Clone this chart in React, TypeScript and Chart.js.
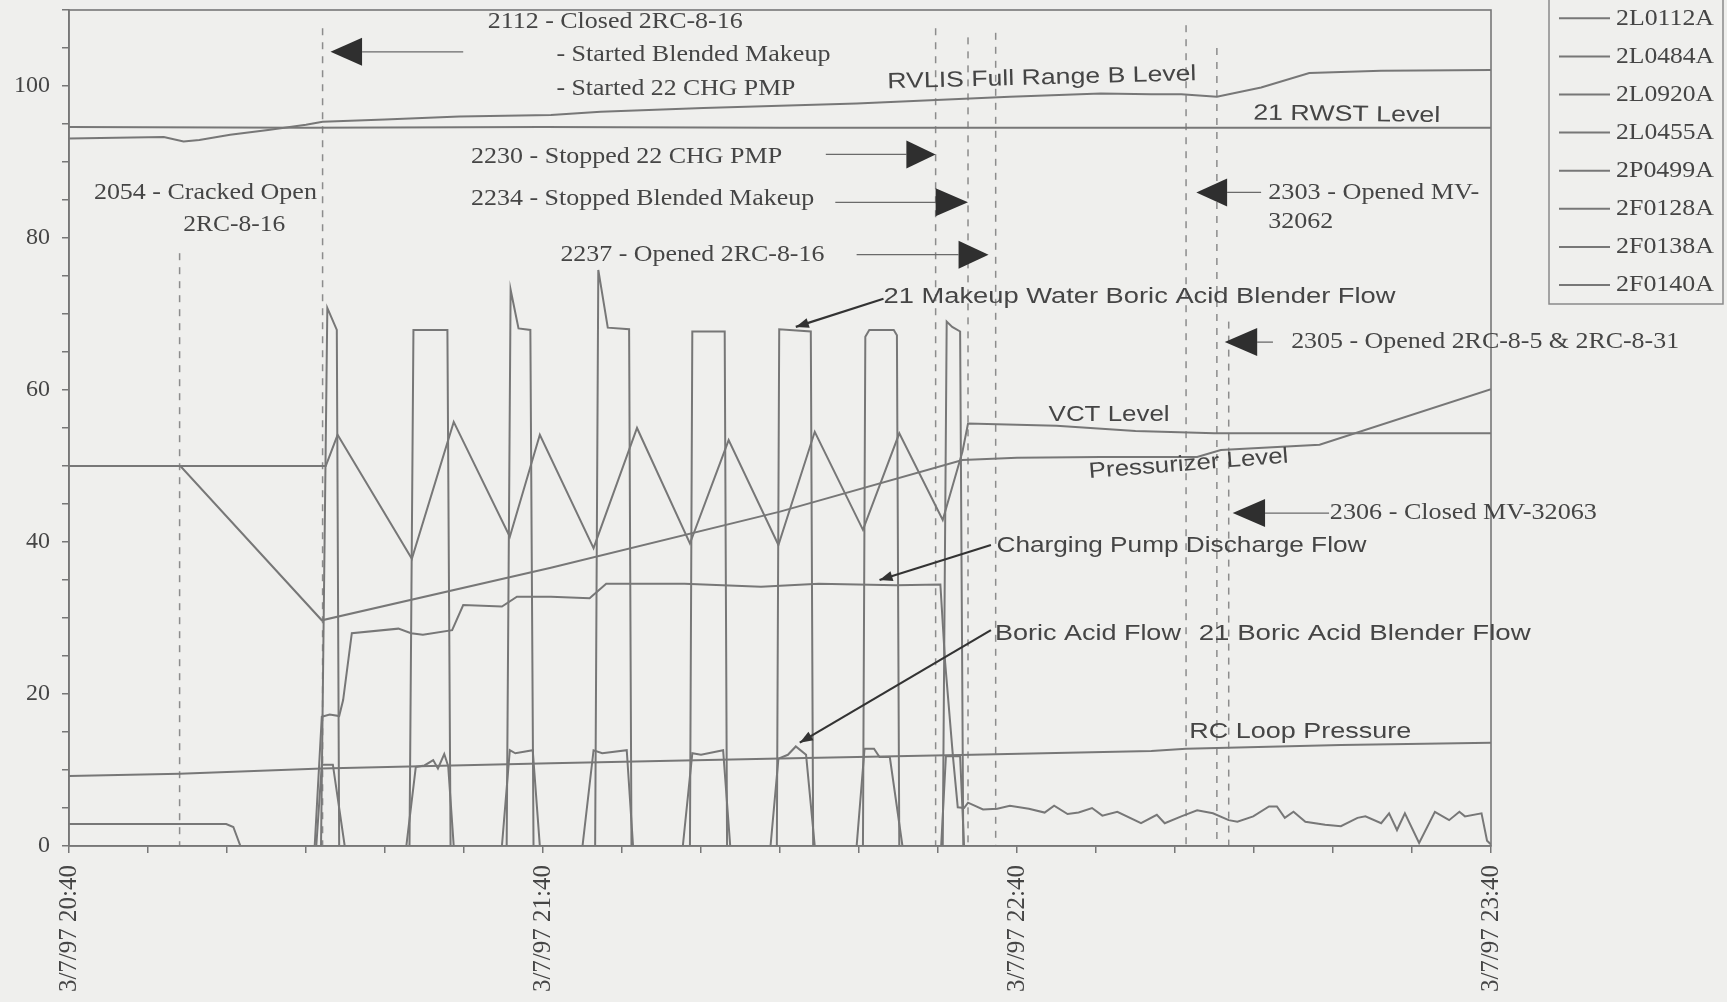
import React, { useEffect, useRef } from "react";
import { Chart, registerables } from "chart.js";

Chart.register(...registerables);

// Time axis: minutes after 3/7/97 20:40
const hourTickMinutes = [0, 60, 120, 180];
const hourTickLabels = ["3/7/97 20:40", "3/7/97 21:40", "3/7/97 22:40", "3/7/97 23:40"];
const yTickLabelValues = [0, 20, 40, 60, 80, 100];

const legendLabels = ["2L0112A", "2L0484A", "2L0920A", "2L0455A", "2P0499A", "2F0128A", "2F0138A", "2F0140A"];

// RVLIS Full Range B Level
const rvlisLevel: [number, number][] = [
  [0, 93.1], [6, 93.2], [12, 93.3], [14.5, 92.7], [16.5, 92.9], [20.4, 93.6], [25.2, 94.2], [30, 94.9],
  [32.1, 95.3], [40, 95.6], [49.4, 96.0], [61, 96.2], [67.3, 96.6], [80.3, 97.1], [99.7, 97.7],
  [119.1, 98.6], [130.6, 99.0], [137, 98.9], [140.8, 98.9], [145.3, 98.6], [150.9, 99.8], [157, 101.7],
  [166.1, 102.0], [180, 102.1],
];

// 21 RWST Level
const rwstLevel: [number, number][] = [
  [0, 94.6], [30, 94.5], [60, 94.6], [90, 94.5], [120, 94.5], [150, 94.5], [180, 94.5],
];

// VCT Level
const vctLevel: [number, number][] = [
  [0, 50], [32.5, 50], [34.0, 54.1], [43.4, 37.8], [48.7, 55.8], [55.8, 40.7], [59.6, 54.1],
  [66.4, 39.2], [71.9, 55.0], [78.6, 39.8], [83.5, 53.4], [89.8, 39.6], [94.4, 54.5], [100.5, 41.6],
  [105.1, 54.3], [110.6, 42.9], [113.1, 51.9], [113.8, 55.6], [125, 55.3], [135, 54.6], [145, 54.3],
  [180, 54.3],
];

// Pressurizer Level
const pressurizerLevel: [number, number][] = [
  [0, 50], [14.1, 50], [32, 29.7], [61, 36.6], [90, 44.0], [113.1, 50.8], [120, 51.1], [130.6, 51.2],
  [142.8, 51.2], [145.8, 52.1], [158.3, 52.8], [180, 60.1],
];

// RC Loop Pressure
const rcLoopPressure: [number, number][] = [
  [0, 9.2], [14, 9.5], [32, 10.2], [61, 10.9], [90, 11.5], [114.3, 12.0], [137, 12.5], [141.4, 12.8],
  [161, 13.3], [180, 13.6],
];

// Charging Pump Discharge Flow
const chargingFlow: [number, number][] = [
  [0, 0], [31.1, 0], [32, 17], [33, 17.3], [34.2, 17.1], [34.7, 19.2], [35.8, 28], [41.7, 28.6],
  [43.3, 28], [44.8, 27.8], [48.5, 28.4], [49.9, 31.7], [54.8, 31.5], [56.7, 32.8], [61, 32.8],
  [65.9, 32.6], [68, 34.5], [77.9, 34.5], [87.6, 34.1], [94.9, 34.5], [104.7, 34.3], [110.3, 34.4],
  [110.9, 24.2], [111.9, 11.7], [112.5, 5.1], [113.3, 5.0], [113.8, 5.7], [115.7, 4.8], [117.5, 4.9],
  [119.1, 5.3], [121.5, 4.9], [123.5, 4.4], [124.7, 5.3], [126.4, 4.2], [127.8, 4.4], [129.5, 5.0],
  [130.8, 4.0], [132.7, 4.5], [135.7, 3.0], [137.7, 4.1], [138.7, 3.0], [140.8, 3.9], [142.8, 4.7],
  [144.8, 4.3], [146.8, 3.4], [147.9, 3.2], [149.9, 3.9], [151.9, 5.2], [152.9, 5.2], [153.9, 3.7],
  [155, 4.5], [156.5, 3.2], [159, 2.8], [161, 2.6], [163.1, 3.7], [164.1, 3.9], [166.1, 3.0],
  [167.1, 4.3], [168.1, 2.1], [169.1, 4.3], [170.9, 0.4], [172.9, 4.5], [174.7, 3.4], [176, 4.5],
  [176.7, 3.9], [178.8, 4.3], [179.5, 0.7], [180, 0.2],
];

// Boric Acid Flow / 21 Boric Acid Blender Flow
const boricAcidFlow: [number, number][] = [
  [0, 2.9], [19.9, 2.9], [20.8, 2.5], [21.7, 0], [31.3, 0], [32, 10.7], [33.4, 10.7], [34.9, 0],
  [42.7, 0], [43.9, 10.4], [45, 10.6], [46.1, 11.3], [46.7, 10.2], [47.5, 12.1], [48, 10.5], [48.7, 0],
  [54.8, 0], [55.8, 12.6], [56.5, 12.2], [58.7, 12.6], [59.6, 0], [65, 0], [66.4, 12.6], [67.5, 12.2],
  [70.6, 12.6], [71.4, 0], [77.7, 0], [78.9, 12.2], [80, 12.0], [82.8, 12.6], [83.7, 0], [88.8, 0],
  [89.8, 11.5], [91, 12.0], [92, 13.1], [93.3, 12.0], [94.4, 0], [99.7, 0], [100.7, 12.8],
  [101.9, 12.8], [102.6, 11.7], [103.9, 11.7], [105.5, 0], [110.4, 0], [111.0, 11.8], [112.8, 11.8],
  [113.3, 0], [180, 0],
];

// 21 Makeup Water Boric Acid Blender Flow
const makeupFlow: [number, number][] = [
  [0, 0], [31.9, 0], [32.7, 70.8], [33.9, 67.9], [34.2, 0], [43.1, 0], [43.6, 67.9], [47.9, 67.9],
  [48.3, 0], [55.4, 0], [55.9, 73.2], [56.9, 68.1], [58.4, 67.9], [58.8, 0], [66.6, 0], [67.0, 75.8],
  [68.2, 68.2], [70.9, 68.0], [71.2, 0], [78.6, 0], [78.9, 67.7], [83.0, 67.7], [83.3, 0], [89.6, 0],
  [89.9, 68.0], [93.9, 67.7], [94.2, 0], [100.5, 0], [100.8, 67.0], [101.3, 67.9], [104.4, 67.9],
  [104.8, 67.2], [105.1, 0], [110.6, 0], [111.1, 69.0], [111.8, 68.3], [112.8, 67.7], [113.2, 0],
  [180, 0],
];

const seriesList = [rvlisLevel, rwstLevel, vctLevel, pressurizerLevel, rcLoopPressure, chargingFlow, boricAcidFlow, makeupFlow];

// Event marker lines (minutes) and the value at which each dashed line starts
const eventTimes = [14, 32.1, 109.7, 113.8, 117.3, 141.4, 145.3, 146.8];
const eventTops = [78, 107.6, 107.6, 106.4, 107, 108, 105, 69];

// Event notes (serif text)
const eventNotes = [
  { text: "2112 - Closed 2RC-8-16", t: 53.0, v: 108.5, w: 255 },
  { text: "- Started Blended Makeup", t: 61.7, v: 104.1, w: 274 },
  { text: "- Started 22 CHG PMP", t: 61.7, v: 99.7, w: 239 },
  { text: "2230 - Stopped 22 CHG PMP", t: 50.9, v: 90.7, w: 311 },
  { text: "2234 - Stopped Blended Makeup", t: 50.9, v: 85.2, w: 343 },
  { text: "2237 - Opened 2RC-8-16", t: 62.2, v: 77.8, w: 264 },
  { text: "2054 - Cracked Open", t: 3.15, v: 85.9, w: 223 },
  { text: "2RC-8-16", t: 14.45, v: 81.7, w: 102 },
  { text: "2303 - Opened MV-", t: 151.8, v: 86.0, w: 211 },
  { text: "32062", t: 151.8, v: 82.1, w: 65 },
  { text: "2305 - Opened 2RC-8-5 & 2RC-8-31", t: 154.7, v: 66.3, w: 388 },
  { text: "2306 - Closed MV-32063", t: 159.6, v: 43.8, w: 267 },
];

// Series name labels (sans text)
const seriesNotes = [
  { text: "RVLIS Full Range B Level", t: 103.6, v: 100.5, w: 309, rot: -1.5 },
  { text: "21 RWST Level", t: 149.9, v: 96.4, w: 187, rot: 0.8 },
  { text: "VCT Level", t: 124.0, v: 56.7, w: 121, rot: 0 },
  { text: "Pressurizer Level", t: 129.1, v: 49.2, w: 200, rot: -4.5 },
  { text: "Charging Pump Discharge Flow", t: 117.4, v: 39.5, w: 370, rot: 0 },
  { text: "Boric Acid Flow", t: 117.2, v: 27.9, w: 186, rot: 0 },
  { text: "21 Boric Acid Blender Flow", t: 143.0, v: 27.9, w: 332, rot: 0 },
  { text: "21 Makeup Water Boric Acid Blender Flow", t: 103.1, v: 72.3, w: 512, rot: 0 },
  { text: "RC Loop Pressure", t: 141.8, v: 15.0, w: 222, rot: 0 },
];

// Big triangle arrows: tip time, base time, tail time, value
const eventArrows = [
  { tip: 33.1, base: 37.1, tail: 49.9, v: 104.5 },
  { tip: 109.7, base: 106.0, tail: 95.8, v: 91.0 },
  { tip: 113.8, base: 109.7, tail: 97.0, v: 84.7 },
  { tip: 116.4, base: 112.6, tail: 99.7, v: 77.8 },
  { tip: 142.7, base: 146.6, tail: 150.9, v: 86.0 },
  { tip: 146.3, base: 150.4, tail: 152.4, v: 66.3 },
  { tip: 147.3, base: 151.4, tail: 159.5, v: 43.8 },
];

// Label pointer arrows: from (t, v) to (t, v)
const pointers = [
  { from: [103.1, 72.0], to: [92.0, 68.3] },
  { from: [116.7, 39.6], to: [102.6, 35.0] },
  { from: [116.7, 28.4], to: [92.5, 13.6] },
];

const LINE_COLOR = "#777777";
const TEXT_COLOR = "#454545";
const SERIF = '"Liberation Serif", "Times New Roman", serif';
const SANS = '"Liberation Sans", Arial, sans-serif';

function drawFitText(ctx: CanvasRenderingContext2D, text: string, x: number, y: number, font: string, width: number, rot = 0) {
  ctx.save();
  ctx.font = font;
  const m = ctx.measureText(text).width;
  ctx.translate(x, y);
  ctx.rotate((rot * Math.PI) / 180);
  ctx.scale(width / m, 1);
  ctx.textAlign = "left";
  ctx.textBaseline = "middle";
  ctx.fillStyle = TEXT_COLOR;
  ctx.fillText(text, 0, 0);
  ctx.restore();
}

const overlayPlugin = {
  id: "overlay",
  beforeDatasetsDraw(chart: any) {
    const { ctx, scales } = chart;
    const x = scales.x;
    const y = scales.y;
    ctx.save();
    ctx.strokeStyle = "#8c8c8c";
    ctx.lineWidth = 1.5;
    ctx.setLineDash([7, 7]);
    eventTimes.forEach((t, i) => {
      const px = x.getPixelForValue(t);
      ctx.beginPath();
      ctx.moveTo(px, y.getPixelForValue(eventTops[i]));
      ctx.lineTo(px, y.getPixelForValue(0));
      ctx.stroke();
    });
    ctx.restore();
  },
  afterDraw(chart: any) {
    const { ctx, chartArea: a, scales } = chart;
    const x = scales.x;
    const y = scales.y;
    ctx.save();
    // plot frame
    ctx.strokeStyle = LINE_COLOR;
    ctx.lineWidth = 1.6;
    ctx.strokeRect(a.left, a.top, a.right - a.left, a.bottom - a.top);

    // event notes
    eventNotes.forEach((n) => {
      drawFitText(ctx, n.text, x.getPixelForValue(n.t), y.getPixelForValue(n.v), `24px ${SERIF}`, n.w);
    });
    // series labels
    seriesNotes.forEach((n) => {
      drawFitText(ctx, n.text, x.getPixelForValue(n.t), y.getPixelForValue(n.v), `22px ${SANS}`, n.w, n.rot);
    });

    // big arrows
    eventArrows.forEach((ar) => {
      const py = y.getPixelForValue(ar.v);
      const tip = x.getPixelForValue(ar.tip);
      const base = x.getPixelForValue(ar.base);
      const tail = x.getPixelForValue(ar.tail);
      ctx.strokeStyle = "#6a6a6a";
      ctx.lineWidth = 1.3;
      ctx.beginPath();
      ctx.moveTo(base, py);
      ctx.lineTo(tail, py);
      ctx.stroke();
      ctx.fillStyle = "#2f2f2f";
      ctx.beginPath();
      ctx.moveTo(tip, py);
      ctx.lineTo(base, py - 14);
      ctx.lineTo(base, py + 14);
      ctx.closePath();
      ctx.fill();
    });

    // pointer arrows
    pointers.forEach((p) => {
      const x1 = x.getPixelForValue(p.from[0]);
      const y1 = y.getPixelForValue(p.from[1]);
      const x2 = x.getPixelForValue(p.to[0]);
      const y2 = y.getPixelForValue(p.to[1]);
      ctx.strokeStyle = "#333333";
      ctx.lineWidth = 2.2;
      ctx.beginPath();
      ctx.moveTo(x1, y1);
      ctx.lineTo(x2, y2);
      ctx.stroke();
      const ang = Math.atan2(y2 - y1, x2 - x1);
      ctx.fillStyle = "#333333";
      ctx.beginPath();
      ctx.moveTo(x2, y2);
      ctx.lineTo(x2 - 13 * Math.cos(ang) + 5 * Math.sin(ang), y2 - 13 * Math.sin(ang) - 5 * Math.cos(ang));
      ctx.lineTo(x2 - 13 * Math.cos(ang) - 5 * Math.sin(ang), y2 - 13 * Math.sin(ang) + 5 * Math.cos(ang));
      ctx.closePath();
      ctx.fill();
    });

    // legend
    const lx = 1549;
    const lw = 174;
    ctx.strokeStyle = "#8a8a8a";
    ctx.lineWidth = 1.5;
    ctx.strokeRect(lx, -2, lw, 306);
    chart.data.datasets.forEach((ds: any, i: number) => {
      const ly = 18.3 + i * 38.1;
      ctx.strokeStyle = ds.borderColor;
      ctx.lineWidth = 2;
      ctx.beginPath();
      ctx.moveTo(1559, ly);
      ctx.lineTo(1610, ly);
      ctx.stroke();
      drawFitText(ctx, ds.label, 1616, ly, `24px ${SERIF}`, 98);
    });
    ctx.restore();
  },
};

export default function App() {
  const ref = useRef<HTMLCanvasElement>(null);
  useEffect(() => {
    document.body.style.margin = "0";
    const canvas = ref.current!;
    const chart = new Chart(canvas, {
      type: "line",
      data: {
        datasets: seriesList.map((s, i) => ({
          label: legendLabels[i],
          data: s.map(([t, v]) => ({ x: t, y: v })),
          borderColor: LINE_COLOR,
          borderWidth: 2,
          pointRadius: 0,
          fill: false,
          tension: 0,
        })),
      },
      options: {
        animation: false,
        responsive: false,
        maintainAspectRatio: false,
        layout: { padding: { left: 0, right: 236, top: 10, bottom: 0 } },
        plugins: { legend: { display: false }, tooltip: { enabled: false } },
        scales: {
          x: {
            type: "linear",
            min: 0,
            max: 180,
            afterFit: (s: any) => {
              s.height = 156;
              s.paddingLeft = 0;
              s.paddingRight = 0;
            },
            ticks: {
              stepSize: 10,
              autoSkip: false,
              minRotation: 90,
              maxRotation: 90,
              padding: 12,
              color: TEXT_COLOR,
              font: { family: SERIF, size: 25 },
              callback: (v: any) => {
                const idx = hourTickMinutes.indexOf(Number(v));
                return idx >= 0 ? hourTickLabels[idx] : "";
              },
            },
            grid: { drawOnChartArea: false, drawTicks: true, tickLength: 7, color: LINE_COLOR, lineWidth: 1.5 },
            border: { display: true, color: LINE_COLOR, width: 1.6 },
          },
          y: {
            min: 0,
            max: 110,
            afterFit: (s: any) => {
              s.width = 69;
              s.paddingTop = 0;
              s.paddingBottom = 0;
            },
            ticks: {
              stepSize: 5,
              autoSkip: false,
              padding: 12,
              color: TEXT_COLOR,
              font: { family: SERIF, size: 24 },
              callback: (v: any) => (yTickLabelValues.includes(Number(v)) ? String(v) : ""),
            },
            grid: { drawOnChartArea: false, drawTicks: true, tickLength: 7, color: LINE_COLOR, lineWidth: 1.5 },
            border: { display: true, color: LINE_COLOR, width: 1.6 },
          },
        },
      },
      plugins: [overlayPlugin],
    } as any);
    return () => chart.destroy();
  }, []);
  return (
    <div style={{ position: "fixed", left: 0, top: 0, width: 1727, height: 1002, background: "#efefed" }}>
      <canvas ref={ref} width={1727} height={1002} style={{ width: 1727, height: 1002, display: "block" }} />
    </div>
  );
}
